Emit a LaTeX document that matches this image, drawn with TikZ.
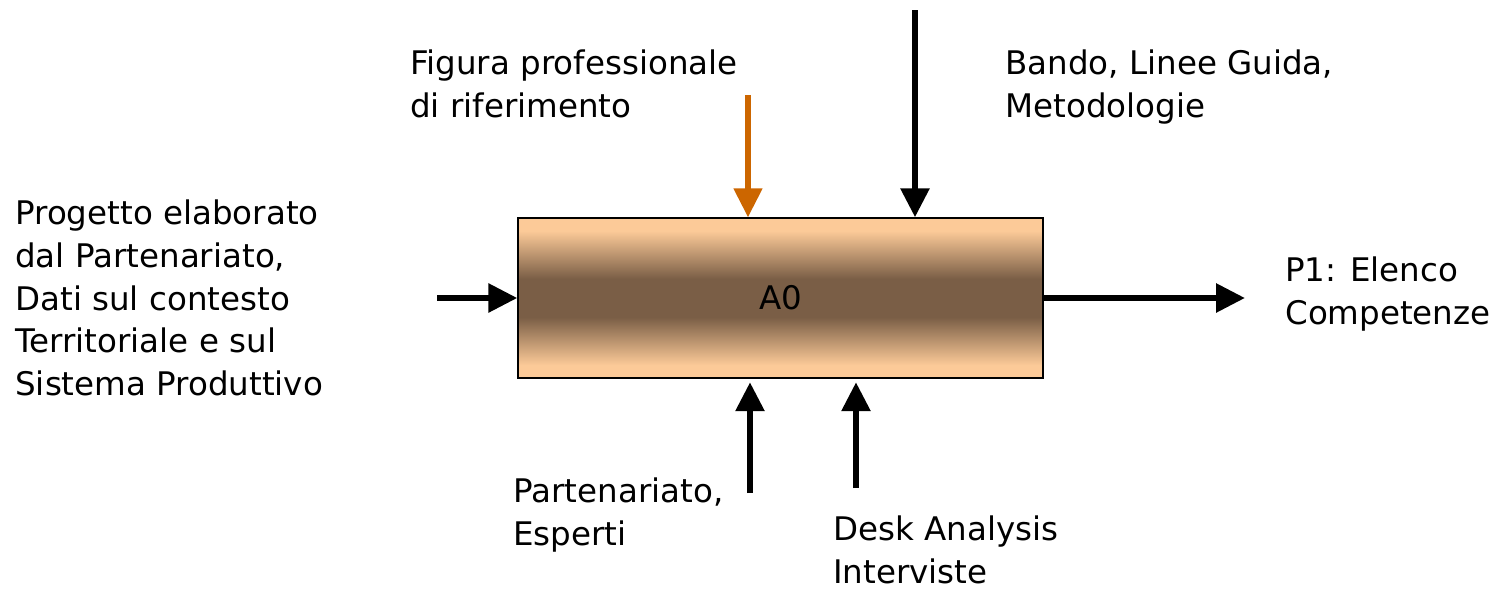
\documentclass[tikz,border=0pt]{standalone}
\usepackage{fontspec}
\setmainfont{DejaVu Sans}
\usetikzlibrary{arrows.meta}

\definecolor{peach}{RGB}{252,202,152}
\definecolor{umber}{RGB}{122,94,70}
\definecolor{ctrlorange}{RGB}{204,102,0}
\pgfdeclareverticalshading{boxshade}{100bp}{color(0bp)=(peach); color(29bp)=(peach); color(44bp)=(umber); color(56bp)=(umber); color(71bp)=(peach); color(100bp)=(peach)}

\begin{document}
\begin{tikzpicture}[x=0.02cm,y=-0.02cm,
  flow/.style={line width=3.4pt,-{Triangle[length=0.58cm,width=0.56cm]}},
  lbl/.style={align=left,inner sep=0pt,anchor=west,font=\fontsize{18.5}{24.4}\selectfont}]
\useasboundingbox (0,0) rectangle (1492,589);

% activity box
\node[draw,line width=0.85pt,shading=boxshade,minimum width=10.5cm,minimum height=3.2cm,
  font=\fontsize{18.5}{24.4}\selectfont] (box) at (780.5,298) {A0};

% labels
\node[lbl] (input) at (15,298) {Progetto elaborato\\dal Partenariato,\\Dati sul contesto\\Territoriale e sul\\Sistema Produttivo};
\node[lbl] (figura) at (410,84) {Figura professionale\\di riferimento};
\node[lbl] (bando) at (1005,87) {Bando, Linee Guida,\\Metodologie};
\node[lbl] (output) at (1285,294) {P1: Elenco\\Competenze};
\node[lbl] (partner) at (513,515) {Partenariato,\\Esperti};
\node[lbl] (desk) at (833,550) {Desk Analysis\\Interviste};

% free ends of the arrows
\coordinate (inpt) at (437,298);
\coordinate (figpt) at (748,95);
\coordinate (bandopt) at (915,10);
\coordinate (outpt) at (1245,298);
\coordinate (partpt) at (750,493);
\coordinate (deskpt) at (856,488);

% arrows
\draw[flow] (inpt) -- (box.west);
\draw[flow,ctrlorange,line width=2.9pt] (figpt) -- (figpt |- box.north);
\draw[flow] (bandopt) -- (bandopt |- box.north);
\draw[flow] (box.east) -- (outpt);
\draw[flow] (partpt) -- ([yshift=-2pt]partpt |- box.south);
\draw[flow] (deskpt) -- ([yshift=-2pt]deskpt |- box.south);
\end{tikzpicture}
\end{document}
